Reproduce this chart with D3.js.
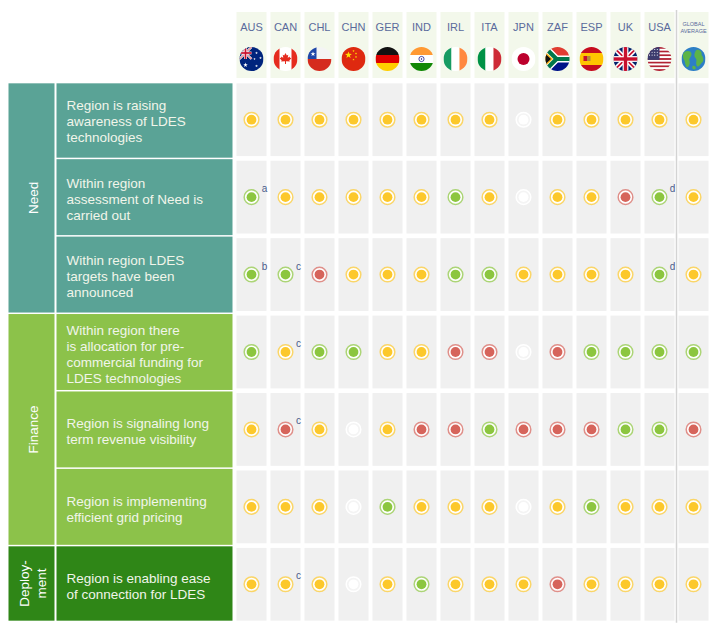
<!DOCTYPE html>
<html>
<head>
<meta charset="utf-8">
<script src="https://cdn.jsdelivr.net/npm/d3@7"></script>
<style>
  body { margin: 0; background: #fff; }
  svg { font-family: "Liberation Sans", Arial, Helvetica, sans-serif; }
</style>
</head>
<body>
<svg id="chart" width="723" height="640"></svg>
<script>
// Columns
var countries = ["AUS", "CAN", "CHL", "CHN", "GER", "IND", "IRL", "ITA", "JPN", "ZAF", "ESP", "UK", "USA", "GLOBAL"];

// Rows
var rowGroups = ["Need", "Need", "Need", "Finance", "Finance", "Finance", "Deployment"];
var groupNames = ["Need", "Finance", "Deployment"];
var groupLabels = [["Need"], ["Finance"], ["Deploy-", "ment"]];
var indicators = [
  ["Region is raising", "awareness of LDES", "technologies"],
  ["Within region", "assessment of Need is", "carried out"],
  ["Within region LDES", "targets have been", "announced"],
  ["Within region there", "is allocation for pre-", "commercial funding for", "LDES technologies"],
  ["Region is signaling long", "term revenue visibility"],
  ["Region is implementing", "efficient grid pricing"],
  ["Region is enabling ease", "of connection for LDES"]
];

// Status per country: G = green, Y = amber, R = red, N = not rated
var awareness   = ["Y", "Y", "Y", "Y", "Y", "Y", "Y", "Y", "N", "Y", "Y", "Y", "Y", "Y"];
var assessment  = ["G", "Y", "Y", "Y", "Y", "Y", "G", "Y", "N", "Y", "Y", "R", "G", "Y"];
var targets     = ["G", "G", "R", "Y", "Y", "Y", "G", "G", "Y", "Y", "Y", "Y", "G", "Y"];
var funding     = ["G", "Y", "G", "G", "Y", "Y", "R", "R", "N", "R", "G", "G", "G", "G"];
var revenue     = ["Y", "R", "Y", "N", "Y", "R", "R", "G", "R", "R", "R", "G", "G", "R"];
var gridPricing = ["Y", "Y", "Y", "N", "G", "Y", "Y", "Y", "N", "Y", "G", "Y", "Y", "Y"];
var connection  = ["Y", "Y", "Y", "N", "Y", "G", "Y", "Y", "Y", "R", "Y", "Y", "Y", "Y"];
var statusRows = [awareness, assessment, targets, funding, revenue, gridPricing, connection];

// Footnote marks: [row, country, mark]
var footnotes = [
  [1, "AUS", "a"], [1, "USA", "d"],
  [2, "AUS", "b"], [2, "CAN", "c"], [2, "USA", "d"],
  [3, "CAN", "c"], [4, "CAN", "c"], [6, "CAN", "c"]
];

var svg = d3.select("#chart");

// Colors
var groupColor = { "Need": "#5aa396", "Finance": "#8cc24a", "Deployment": "#2f8617" };
var statusColor = { G: "#8cc63f", Y: "#fcc82b", R: "#d6645b", N: "#ffffff" };

// Scales
var x = d3.scaleBand()
          .domain(countries)
          .range([234.5, 710.5])
          .paddingInner(4 / 34)
          .paddingOuter(2 / 34);
var y = d3.scaleBand()
          .domain(d3.range(indicators.length))
          .range([81, 623])
          .paddingInner(0.06)
          .paddingOuter(0.03);
var bw = x.bandwidth(), bh = y.bandwidth();
var gap = y.step() - bh;
var lastRow = indicators.length - 1;

function rowTop(i) { return i == 0 ? y(i) : y(i) - gap / 2 + 0.75; }
function rowBottom(i) { return i == lastRow ? y(i) + bh : y(i) + bh + gap / 2 - 0.75; }

// ---------- flag helpers ----------
function rect(g, x0, y0, w, h, fill) {
  g.append("rect").attr("x", x0).attr("y", y0).attr("width", w).attr("height", h).attr("fill", fill);
}
function star(g, cx, cy, r, fill) {
  var pts = d3.range(10).map(function(k) {
    var a = -Math.PI / 2 + k * Math.PI / 5, rr = k % 2 ? r * 0.4 : r;
    return [cx + rr * Math.cos(a), cy + rr * Math.sin(a)];
  });
  g.append("polygon").attr("points", pts.join(" ")).attr("fill", fill);
}
function line(g, x1, y1, x2, y2, stroke, w) {
  g.append("line").attr("x1", x1).attr("y1", y1).attr("x2", x2).attr("y2", y2)
   .attr("stroke", stroke).attr("stroke-width", w);
}
function unionJack(g) {
  rect(g, -12, -12, 24, 24, "#012169");
  line(g, -12, -12, 12, 12, "#fff", 4.8);
  line(g, -12, 12, 12, -12, "#fff", 4.8);
  line(g, -12, -12, 12, 12, "#c8102e", 1.6);
  line(g, -12, 12, 12, -12, "#c8102e", 1.6);
  rect(g, -12, -2.9, 24, 5.8, "#fff");
  rect(g, -2.9, -12, 5.8, 24, "#fff");
  rect(g, -12, -1.7, 24, 3.4, "#c8102e");
  rect(g, -1.7, -12, 3.4, 24, "#c8102e");
}

var flags = {
  AUS: function(g) {
    rect(g, -12, -12, 24, 24, "#00247d");
    unionJack(g.append("g").attr("transform", "translate(-6,-6) scale(0.5)"));
    star(g, -6, 6, 2.4, "#fff");
    star(g, 5, -6, 1.4, "#fff");
    star(g, 9, -1, 1.4, "#fff");
    star(g, 3, 0, 1.2, "#fff");
    star(g, 5, 7, 1.5, "#fff");
  },
  CAN: function(g) {
    rect(g, -12, -12, 24, 24, "#fff");
    rect(g, -12, -12, 6, 24, "#e52b1e");
    rect(g, 6, -12, 6, 24, "#e52b1e");
    g.append("path")
     .attr("d", "M0,-6 L1.3,-3.6 L2.8,-4.2 L2.2,-1.2 L4.6,-2.6 L4.2,-1.4 L5.8,-0.8 L3.8,1.4 L4.4,2.6 L0.5,2.2 L0.5,5 L-0.5,5 L-0.5,2.2 L-4.4,2.6 L-3.8,1.4 L-5.8,-0.8 L-4.2,-1.4 L-4.6,-2.6 L-2.2,-1.2 L-2.8,-4.2 L-1.3,-3.6 Z")
     .attr("fill", "#e52b1e");
  },
  CHL: function(g) {
    rect(g, -12, -12, 24, 12, "#f4f4f4");
    rect(g, -12, 0, 24, 12, "#d52b1e");
    rect(g, -12, -12, 9, 12, "#1f47a8");
    star(g, -6.5, -5, 2.6, "#fff");
  },
  CHN: function(g) {
    rect(g, -12, -12, 24, 24, "#de2910");
    star(g, -5, -4, 3.6, "#ffde00");
    star(g, 0, -8, 1.2, "#ffde00");
    star(g, 2.5, -5.5, 1.2, "#ffde00");
    star(g, 2.5, -2, 1.2, "#ffde00");
    star(g, 0, 0.6, 1.2, "#ffde00");
  },
  GER: function(g) {
    rect(g, -12, -12, 24, 8, "#111");
    rect(g, -12, -4, 24, 8, "#dd0000");
    rect(g, -12, 4, 24, 8, "#ffce00");
  },
  IND: function(g) {
    rect(g, -12, -12, 24, 8, "#ff9933");
    rect(g, -12, -4, 24, 8, "#fff");
    rect(g, -12, 4, 24, 8, "#138808");
    g.append("circle").attr("r", 2.6).attr("fill", "none").attr("stroke", "#000080").attr("stroke-width", 0.7);
    g.append("circle").attr("r", 0.7).attr("fill", "#000080");
  },
  IRL: function(g) {
    rect(g, -12, -12, 8, 24, "#169b62");
    rect(g, -4, -12, 8, 24, "#fff");
    rect(g, 4, -12, 8, 24, "#ff883e");
  },
  ITA: function(g) {
    rect(g, -12, -12, 8, 24, "#009246");
    rect(g, -4, -12, 8, 24, "#fff");
    rect(g, 4, -12, 8, 24, "#ce2b37");
  },
  JPN: function(g) {
    rect(g, -12, -12, 24, 24, "#fff");
    g.append("circle").attr("r", 6).attr("fill", "#bc002d");
  },
  ZAF: function(g) {
    rect(g, -12, -12, 24, 12, "#e03c31");
    rect(g, -12, 0, 24, 12, "#001489");
    g.append("path").attr("d", "M-13,-12 L-1,0 L13,0 M-13,12 L-1,0")
     .attr("fill", "none").attr("stroke", "#fff").attr("stroke-width", 7);
    g.append("path").attr("d", "M-13,-12 L-1,0 L13,0 M-13,12 L-1,0")
     .attr("fill", "none").attr("stroke", "#007749").attr("stroke-width", 4.2);
    g.append("polygon").attr("points", "-13,-8 -4.5,0 -13,8").attr("fill", "#ffb81c");
    g.append("polygon").attr("points", "-13,-6 -6.5,0 -13,6").attr("fill", "#111");
  },
  ESP: function(g) {
    rect(g, -12, -12, 24, 6, "#c60b1e");
    rect(g, -12, -6, 24, 12, "#ffc400");
    rect(g, -12, 6, 24, 6, "#c60b1e");
    rect(g, -8, -3, 3.5, 5, "#c8102e");
    rect(g, -4.5, -3, 3.5, 5, "#b5893a");
  },
  UK: function(g) { unionJack(g); },
  USA: function(g) {
    d3.range(13).forEach(function(k) {
      rect(g, -12, -12 + k * 24 / 13, 24, 24 / 13 + 0.05, k % 2 ? "#fff" : "#b22234");
    });
    rect(g, -12, -12, 12, 24 * 7 / 13, "#3c3b6e");
    d3.range(3).forEach(function(i) {
      d3.range(4).forEach(function(j) {
        g.append("circle").attr("cx", -10 + j * 2.6).attr("cy", -9.5 + i * 2.8)
         .attr("r", 0.55).attr("fill", "#fff");
      });
    });
  },
  GLOBAL: function(g) {
    rect(g, -12, -12, 24, 24, "#2d7fc6");
    g.append("path")
     .attr("d", "M-9,-7 C-6,-9 -2,-8 -2,-5 C-2,-2 -5,-1 -4,2 C-3,5 -5,9 -7,8 C-9,5 -8,2 -10,0 C-11,-3 -11,-5 -9,-7 Z")
     .attr("fill", "#5cb448");
    g.append("path")
     .attr("d", "M3,-9 C6,-10 9,-7 8,-4 C10,-2 11,2 8,4 C6,7 4,9 3,6 C2,3 4,1 2,-1 C0,-3 1,-7 3,-9 Z")
     .attr("fill", "#5cb448");
    g.append("path")
     .attr("d", "M-1,7 C1,6 3,8 2,10 C0,11 -2,10 -1,7 Z")
     .attr("fill", "#5cb448");
  }
};

svg.append("defs").append("clipPath").attr("id", "flagClip")
   .append("circle").attr("r", 12);

// Header cells
var header = svg.selectAll(".header")
                .data(countries)
                .enter()
                .append("g")
                .attr("class", "header")
                .attr("transform", function(d) { return "translate(" + x(d) + ",0)"; });
header.append("rect")
      .attr("y", 12)
      .attr("width", bw)
      .attr("height", 66)
      .attr("fill", "#f3f8eb");
header.filter(function(d) { return d != "GLOBAL"; })
      .append("text")
      .attr("x", bw / 2)
      .attr("y", 31)
      .attr("text-anchor", "middle")
      .attr("font-size", 11)
      .attr("fill", "#5a6a9c")
      .text(function(d) { return d; });
header.filter(function(d) { return d == "GLOBAL"; })
      .selectAll("text")
      .data(["GLOBAL", "AVERAGE"])
      .enter()
      .append("text")
      .attr("x", bw / 2)
      .attr("y", function(d, i) { return 26 + i * 7; })
      .attr("text-anchor", "middle")
      .attr("font-size", 5.5)
      .attr("fill", "#5a6a9c")
      .text(function(d) { return d; });
header.each(function(d) {
  var g = d3.select(this).append("g")
            .attr("transform", "translate(" + bw / 2 + ",59)")
            .attr("clip-path", "url(#flagClip)");
  flags[d](g);
});

// Separator before the global average
svg.append("line")
   .attr("x1", x("GLOBAL") - 2).attr("x2", x("GLOBAL") - 2)
   .attr("y1", 10).attr("y2", y(lastRow) + bh + 2)
   .attr("stroke", "#d3d3d3")
   .attr("stroke-width", 1.5);

// Group blocks
svg.selectAll(".groupBlock")
   .data(groupNames)
   .enter()
   .append("g")
   .attr("class", "groupBlock")
   .each(function(name, gi) {
     var rows = d3.range(rowGroups.length).filter(function(i) { return rowGroups[i] == name; });
     var top = rowTop(rows[0]), bottom = rowBottom(rows[rows.length - 1]);
     var g = d3.select(this);
     g.append("rect")
      .attr("x", 8.5).attr("y", top)
      .attr("width", 46).attr("height", bottom - top)
      .attr("fill", groupColor[name]);
     var lines = groupLabels[gi];
     var t = g.append("text")
              .attr("transform", "translate(33," + (top + bottom) / 2 + ") rotate(-90)")
              .attr("text-anchor", "middle")
              .attr("font-size", 13.5)
              .attr("fill", "#fff");
     t.selectAll("tspan")
      .data(lines)
      .enter()
      .append("tspan")
      .attr("x", 0)
      .attr("y", function(d, i) { return (i - (lines.length - 1) / 2) * 16.7 + 4.7; })
      .text(function(d) { return d; });
   });

// Indicator labels
var labels = svg.selectAll(".indicator")
                .data(indicators)
                .enter()
                .append("g")
                .attr("class", "indicator");
labels.append("rect")
      .attr("x", 56.5)
      .attr("y", function(d, i) { return rowTop(i); })
      .attr("width", 176)
      .attr("height", function(d, i) { return rowBottom(i) - rowTop(i); })
      .attr("fill", function(d, i) { return groupColor[rowGroups[i]]; });
labels.append("text")
      .attr("font-size", 13.5)
      .attr("fill", "#f1f5ea")
      .each(function(lines, i) {
        var cy = y(i) + bh / 2;
        d3.select(this).selectAll("tspan")
          .data(lines)
          .enter()
          .append("tspan")
          .attr("x", 66.5)
          .attr("y", function(d, k) { return cy + (k - (lines.length - 1) / 2) * 16 + 6.7; })
          .text(function(d) { return d; });
      });

// Grid cells and status dots
var rows = svg.selectAll(".row")
              .data(statusRows)
              .enter()
              .append("g")
              .attr("class", "row")
              .attr("transform", function(d, i) { return "translate(0," + y(i) + ")"; });
var cells = rows.selectAll(".cell")
                .data(function(d) { return d.map(function(s, j) { return { status: s, country: countries[j] }; }); })
                .enter()
                .append("g")
                .attr("class", "cell")
                .attr("transform", function(d) { return "translate(" + x(d.country) + ",0)"; });
cells.append("rect")
     .attr("width", bw)
     .attr("height", bh)
     .attr("fill", "#f0f0f0");
cells.append("circle")
     .attr("cx", bw / 2)
     .attr("cy", bh / 2)
     .attr("r", 7.3)
     .attr("fill", function(d) { return d.status == "N" ? "#f4f4f4" : "#fff"; })
     .attr("stroke", function(d) { return statusColor[d.status]; })
     .attr("stroke-opacity", function(d) { return d.status == "N" ? 1 : 0.7; })
     .attr("stroke-width", 1.5);
cells.append("circle")
     .attr("cx", bw / 2)
     .attr("cy", bh / 2)
     .attr("r", 4.9)
     .attr("fill", function(d) { return statusColor[d.status]; });

// Footnote marks
svg.selectAll(".footnote")
   .data(footnotes)
   .enter()
   .append("text")
   .attr("class", "footnote")
   .attr("x", function(d) { return x(d[1]) + bw / 2 + 13; })
   .attr("y", function(d) { return y(d[0]) + bh / 2 - 5; })
   .attr("text-anchor", "middle")
   .attr("font-size", 10)
   .attr("fill", "#4b5c8c")
   .text(function(d) { return d[2]; });
</script>
</body>
</html>
